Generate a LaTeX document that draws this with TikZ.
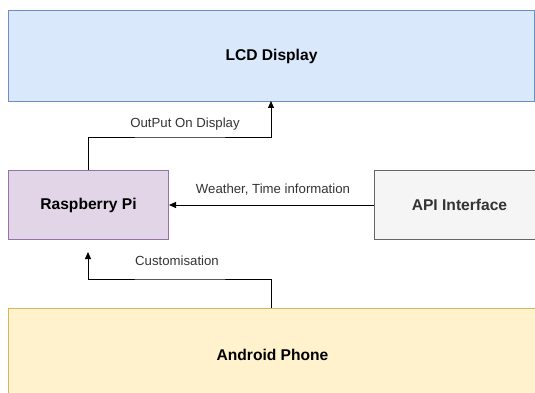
\documentclass[tikz,border=0pt]{standalone}
\usepackage{fontspec}
\setmainfont{Liberation Sans}
\usetikzlibrary{arrows.meta}
\definecolor{lcdfill}{HTML}{DAE8FC}\definecolor{lcdline}{HTML}{6C8EBF}
\definecolor{rpifill}{HTML}{E1D5E7}\definecolor{rpiline}{HTML}{9673A6}
\definecolor{apifill}{HTML}{F5F5F5}\definecolor{apiline}{HTML}{666666}
\definecolor{apitext}{HTML}{333333}
\definecolor{andfill}{HTML}{FFF2CC}\definecolor{andline}{HTML}{D6B656}
\definecolor{lbl}{HTML}{333333}
\tikzset{
  blk/.style={draw, line width=1pt, minimum height=0pt, inner sep=0pt, font=\fontsize{15.6}{18}\selectfont\bfseries},
  conn/.style={draw=black, line width=1pt, -{Triangle[length=7pt,width=6pt]}},
  elabel/.style={font=\fontsize{13.2}{15}\selectfont, text=lbl, inner sep=0pt}
}
\begin{document}
\begin{tikzpicture}[x=1pt,y=-1pt]
\useasboundingbox (0,0) rectangle (535,393);
\clip (0,0) rectangle (535,393);
\node[blk, fill=lcdfill, draw=lcdline, minimum width=526pt, minimum height=91pt, anchor=north west] (lcd) at (8,10) {LCD Display};
\node[blk, fill=rpifill, draw=rpiline, minimum width=160pt, minimum height=69pt, anchor=north west] (rpi) at (8,170) {Raspberry Pi};
\node[blk, fill=apifill, draw=apiline, text=apitext, minimum width=170pt, minimum height=69pt, anchor=north west] (api) at (374,170) {API Interface};
\node[blk, fill=andfill, draw=andline, minimum width=528pt, minimum height=92pt, anchor=north west] (and) at (8,308) {Android Phone};
\coordinate (lcdin) at (271,101);
\coordinate (rpiout) at (88,170);
\draw[conn] (rpiout) |- (180,137) -| (lcdin);
\node[elabel] (l1) at (185,124) {OutPut On Display};
\draw[conn] (api.west |- 0,205) -- (rpi.east |- 0,205);
\node[elabel] (l2) at (273,190) {Weather, Time information};
\coordinate (andout) at (271,308);
\coordinate (rpiin) at (88,252);
\draw[conn] (andout) |- (180,279) -| (rpiin);
\node[elabel] (l3) at (177,261) {Customisation};
\end{tikzpicture}
\end{document}
